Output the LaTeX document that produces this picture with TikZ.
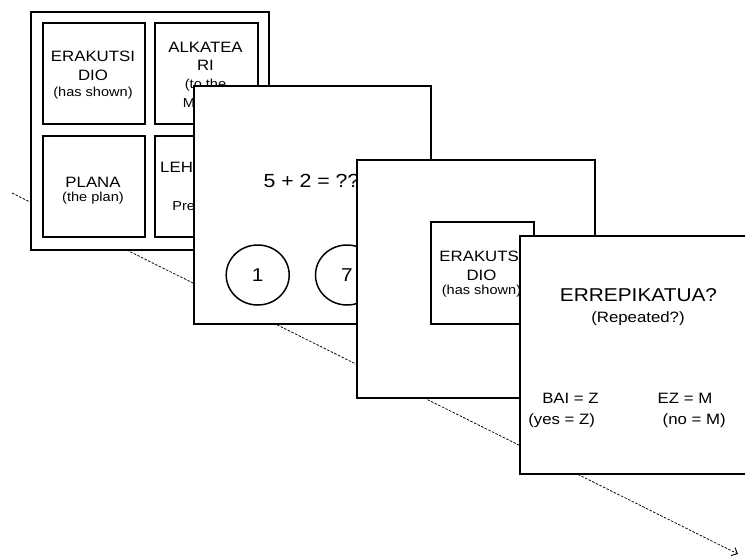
\documentclass[tikz,border=0pt]{standalone}
\usepackage{fontspec}
\setmainfont[FakeStretch=1.12]{Liberation Sans}
\usetikzlibrary{arrows.meta,shapes.geometric}
\begin{document}
\begin{tikzpicture}[x=1pt,y=-1pt,
  frame/.style={draw, line width=1.9pt, fill=white, inner sep=0pt, anchor=north west, minimum width=238pt, minimum height=238pt},
  cell/.style={draw, line width=1.9pt, fill=white, inner sep=0pt, anchor=north west, minimum width=102pt, minimum height=101pt},
  wordtxt/.style={inner sep=0pt, anchor=base, font=\fontsize{15}{18}\selectfont},
  glosstxt/.style={inner sep=0pt, anchor=base, font=\fontsize{13}{15}\selectfont},
  bigtxt/.style={inner sep=0pt, anchor=base, font=\fontsize{19}{22}\selectfont},
  choice/.style={draw, ellipse, line width=1.5pt, inner sep=0pt, minimum width=63pt, minimum height=60pt, font=\fontsize{18.6}{22}\selectfont},
  timeline/.style={line width=0.75pt, dash pattern=on 2.5pt off 1.5pt, -{Straight Barb[length=5pt,width=9pt,line width=0.9pt]}}
]
\useasboundingbox (0,0) rectangle (745,558);
\clip (0,0) rectangle (745,558);
\fill[white] (0,0) rectangle (745,558);

% time line
\coordinate (tstart) at (12,193);
\coordinate (tend) at (738,554);
\draw[timeline] (tstart) -- (tend);

% frame 1
\node[frame] (f1) at (30,11) {};
\node[cell] (c11) at (42,22) {};
\node[cell, minimum width=103pt] (c12) at (154,22) {};
\node[cell] (c21) at (42,135) {};
\node[cell, minimum width=103pt] (c22) at (154,135) {};
\node[wordtxt] (t11a) at (93,61.7) {ERAKUTSI};
\node[wordtxt] (t11b) at (93,80) {DIO};
\node[glosstxt] (t11c) at (93,96.7) {(has shown)};
\node[wordtxt] (t12a) at (205.5,52.3) {ALKATEA};
\node[wordtxt] (t12b) at (205.5,70.5) {RI};
\node[glosstxt] (t12c) at (205.5,88.5) {(to the};
\node[glosstxt] (t12d) at (205.5,107.5) {Mayor)};
\node[wordtxt] (t21a) at (93,187.3) {PLANA};
\node[glosstxt] (t21b) at (93,201) {(the plan)};
\node[wordtxt] (t22a) at (205.5,172) {LEHENDAK};
\node[glosstxt] (t22b) at (205.5,191) {(the};
\node[glosstxt] (t22c) at (205.5,210) {President)};

% frame 2
\node[frame, minimum width=237pt] (f2) at (193,85) {};
\node[bigtxt] (q) at (311.5,187.3) {5 + 2 = ??};
\node[choice] (o1) at (257.7,275) {1};
\node[choice] (o2) at (347,275) {7};

% frame 3
\node[frame] (f3) at (356,159) {};
\node[cell, minimum width=103pt, minimum height=102pt] (w) at (430,221) {};
\node[wordtxt] (wa) at (481.5,261.7) {ERAKUTSI};
\node[wordtxt] (wb) at (481.5,280.7) {DIO};
\node[glosstxt] (wc) at (481.5,294.5) {(has shown)};

% frame 4
\node[frame] (f4) at (519,235) {};
\node[bigtxt, font=\fontsize{18.6}{22}\selectfont] (r1) at (638.5,301.7) {ERREPIKATUA?};
\node[wordtxt] (r2) at (638,322.3) {(Repeated?)};
\node[wordtxt] (y1) at (570.5,403.3) {BAI = Z};
\node[wordtxt] (y2) at (561.7,424.3) {(yes = Z)};
\node[wordtxt] (n1) at (685,403.3) {EZ = M};
\node[wordtxt] (n2) at (694.2,424.3) {(no = M)};
\end{tikzpicture}
\end{document}
